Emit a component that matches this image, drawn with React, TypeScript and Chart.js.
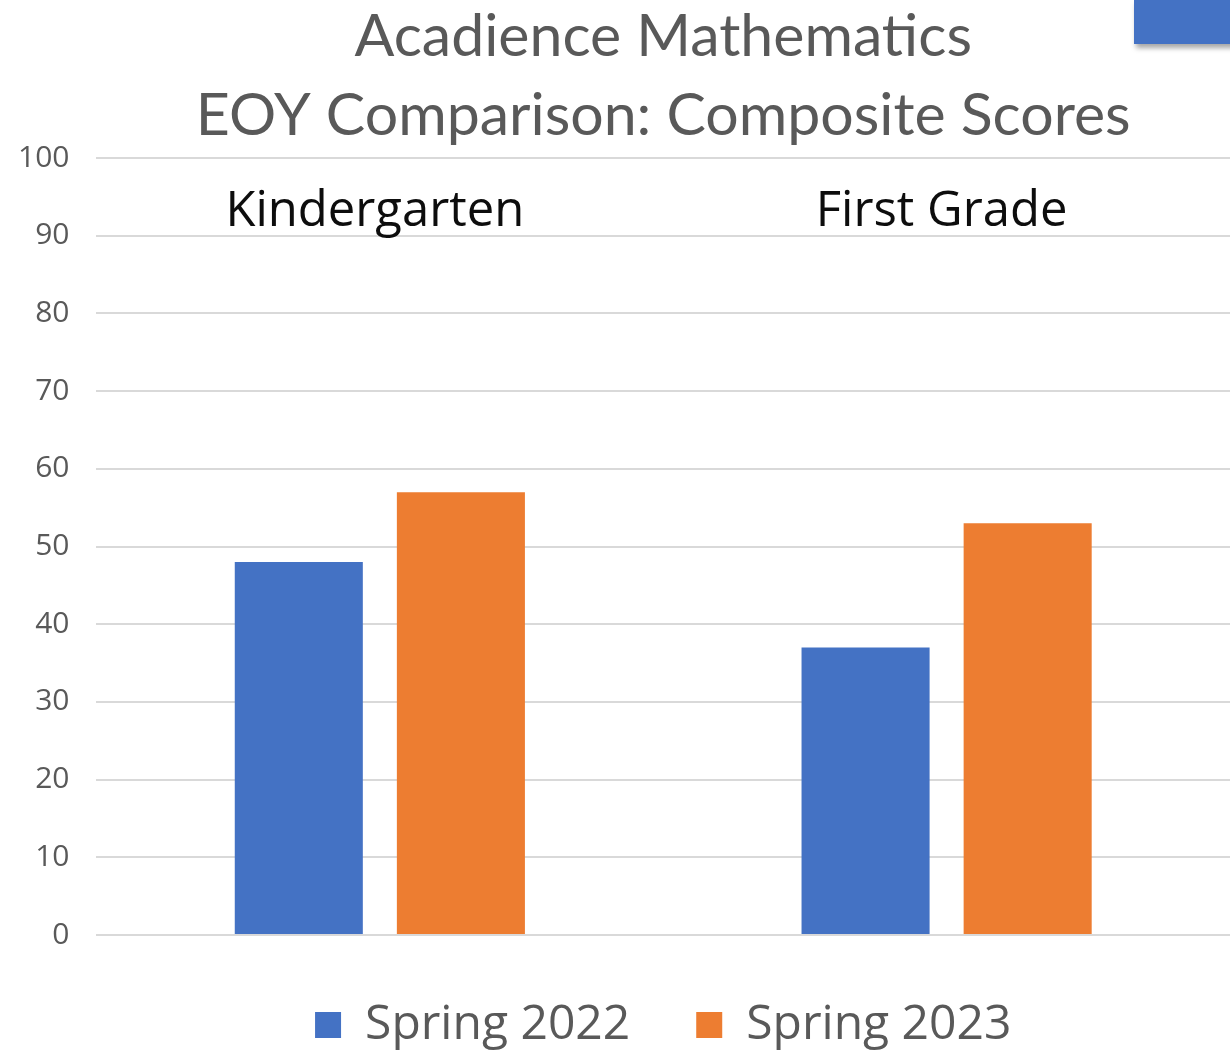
import React, { useEffect, useRef } from "react";
import { Chart, registerables } from "chart.js";

Chart.register(...registerables);

const titleLines = ["Acadience Mathematics", "EOY Comparison: Composite Scores"];
const categories = ["Kindergarten", "First Grade"];
const seriesNames = ["Spring 2022", "Spring 2023"];
const spring2022 = [48, 37];
const spring2023 = [57, 53];
const yMin = 0;
const yMax = 100;
const yStep = 10;

const categoryLabelPlugin = {
  id: "categoryLabels",
  afterDatasetsDraw(chart: any) {
    const { ctx, scales } = chart;
    const x = scales.x;
    const y = scales.y;
    ctx.save();
    ctx.font = "49px 'Open Sans'";
    ctx.fillStyle = "#0d0d0d";
    ctx.textAlign = "center";
    ctx.textBaseline = "middle";
    categories.forEach((c, i) => {
      ctx.fillText(c, x.getPixelForValue(i) - 5, y.top + 54);
    });
    ctx.restore();
  },
};

export default function App() {
  const canvasRef = useRef<HTMLCanvasElement | null>(null);

  useEffect(() => {
    const canvas = canvasRef.current;
    if (!canvas) return;
    const chart = new Chart(canvas, {
      type: "bar",
      data: {
        labels: categories,
        datasets: [
          {
            label: seriesNames[0],
            data: spring2022,
            backgroundColor: "#4472C4",
            categoryPercentage: 0.572,
            barPercentage: 0.79,
          },
          {
            label: seriesNames[1],
            data: spring2023,
            backgroundColor: "#ED7D31",
            categoryPercentage: 0.572,
            barPercentage: 0.79,
          },
        ],
      },
      options: {
        responsive: false,
        animation: false,
        layout: { padding: { left: -9, right: 0, top: 0, bottom: -8 } },
        plugins: {
          title: {
            display: true,
            fullSize: false,
            text: titleLines,
            color: "#595959",
            font: { family: "Lato", size: 59, weight: "normal", lineHeight: 1.34 },
            padding: { top: -3, bottom: 3 },
          },
          legend: {
            position: "bottom",
            fullSize: false,
            labels: {
              boxWidth: 26,
              boxHeight: 26,
              color: "#595959",
              font: { family: "'Open Sans'", size: 48 },
              padding: 66,
            },
          },
          tooltip: { enabled: false },
        },
        scales: {
          x: { display: false },
          y: {
            min: yMin,
            max: yMax,
            ticks: {
              stepSize: yStep,
              color: "#595959",
              font: { family: "'Open Sans'", size: 30 },
              padding: 27,
            },
            grid: { color: "#d9d9d9", lineWidth: 2, drawTicks: false },
            border: { display: false },
          },
        },
      },
      plugins: [categoryLabelPlugin],
    });
    return () => chart.destroy();
  }, []);

  return (
    <div style={{ position: "fixed", left: 0, top: 0, width: 1230, height: 1051, background: "#fff", overflow: "hidden" }}>
      <canvas ref={canvasRef} width={1230} height={1051} style={{ display: "block" }} />
      <div
        style={{
          position: "absolute",
          left: 1134,
          top: 0,
          width: 100,
          height: 44,
          background: "#4472C4",
          boxShadow: "2px 4px 5px rgba(0,0,0,0.35)",
        }}
      />
    </div>
  );
}
